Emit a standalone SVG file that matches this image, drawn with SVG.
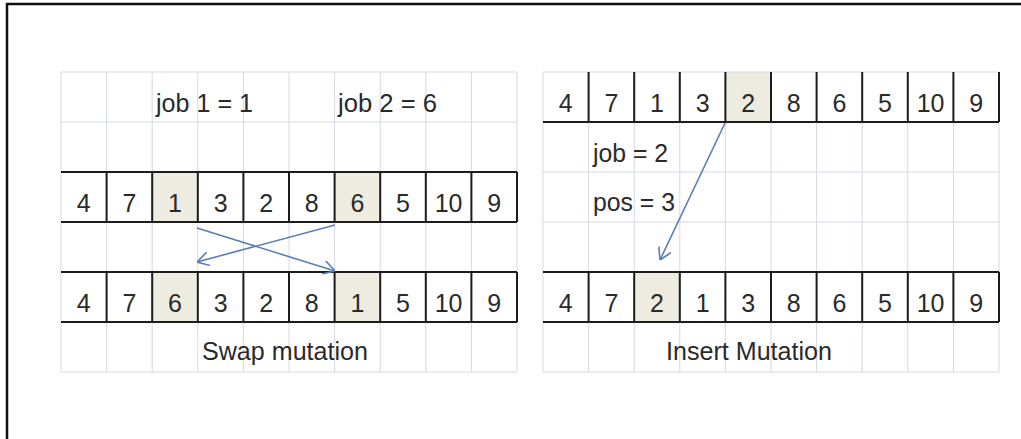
<svg xmlns="http://www.w3.org/2000/svg" width="1021" height="439" viewBox="0 0 1021 439">
<defs>
<style>
.bg{fill:#ffffff}
.frame{fill:none;stroke:#111;stroke-width:2.5}
.grid{stroke:#d3d9e5;stroke-width:1;fill:none}
.thick{stroke:#1c1c1c;stroke-width:2;fill:none}
.hl{fill:#eeece1}
.num{font-family:"Liberation Sans",Arial,sans-serif;font-size:25px;fill:#2a2a2a;text-anchor:middle}
.lbl{font-family:"Liberation Sans",Arial,sans-serif;font-size:26px;fill:#2a2a2a}
.arr{stroke:#5a7fb6;stroke-width:1.6;fill:none;marker-end:url(#head)}
</style>
<marker id="head" viewBox="0 0 12 14" refX="12" refY="7" markerWidth="12" markerHeight="14" markerUnits="userSpaceOnUse" orient="auto">
<path d="M0,0 L12,7 L0,14" fill="none" stroke="#5a7fb6" stroke-width="1.6"/>
</marker>
</defs>
<rect class="bg" x="0" y="0" width="1021" height="439"/>
<path class="frame" d="M7,439 L7,4 L1021,4"/>

<g id="swap-grid">
<rect class="hl" x="152.2" y="172" width="45.6" height="50"/>
<rect class="hl" x="334.6" y="172" width="45.6" height="50"/>
<rect class="hl" x="152.2" y="272" width="45.6" height="50"/>
<rect class="hl" x="334.6" y="272" width="45.6" height="50"/>
<path class="grid" d="M61,72H517M61,122H517M61,172H517M61,222H517M61,272H517M61,322H517M61,372H517
M61,72V372M106.6,72V372M152.2,72V372M197.8,72V372M243.4,72V372M289,72V372M334.6,72V372M380.2,72V372M425.8,72V372M471.4,72V372M517,72V372"/>
<path class="thick" d="M61,172H517M61,222H517M106.6,172V222M152.2,172V222M197.8,172V222M243.4,172V222M289,172V222M334.6,172V222M380.2,172V222M425.8,172V222M471.4,172V222M517,172V222
M61,272H517M61,322H517M106.6,272V322M152.2,272V322M197.8,272V322M243.4,272V322M289,272V322M334.6,272V322M380.2,272V322M425.8,272V322M471.4,272V322M517,272V322"/>
<text class="lbl" x="156" y="112" textLength="97" lengthAdjust="spacingAndGlyphs">job 1 = 1</text>
<text class="lbl" x="338" y="112" textLength="99" lengthAdjust="spacingAndGlyphs">job 2 = 6</text>
<g class="num">
<text x="83.8" y="211.5">4</text><text x="129.4" y="211.5">7</text><text x="175" y="211.5">1</text><text x="220.6" y="211.5">3</text><text x="266.2" y="211.5">2</text><text x="311.8" y="211.5">8</text><text x="357.4" y="211.5">6</text><text x="403" y="211.5">5</text><text x="448.6" y="211.5">10</text><text x="494.2" y="211.5">9</text>
<text x="83.8" y="311.5">4</text><text x="129.4" y="311.5">7</text><text x="175" y="311.5">6</text><text x="220.6" y="311.5">3</text><text x="266.2" y="311.5">2</text><text x="311.8" y="311.5">8</text><text x="357.4" y="311.5">1</text><text x="403" y="311.5">5</text><text x="448.6" y="311.5">10</text><text x="494.2" y="311.5">9</text>
</g>
<text class="lbl" x="202" y="360" textLength="166" lengthAdjust="spacingAndGlyphs">Swap mutation</text>
</g>

<g id="insert-grid">
<rect class="hl" x="725.4" y="72" width="45.6" height="50"/>
<rect class="hl" x="634.2" y="272" width="45.6" height="50"/>
<path class="grid" d="M543,72H999M543,122H999M543,172H999M543,222H999M543,272H999M543,322H999M543,372H999
M543,72V372M588.6,72V372M634.2,72V372M679.8,72V372M725.4,72V372M771,72V372M816.6,72V372M862.2,72V372M907.8,72V372M953.4,72V372M999,72V372"/>
<path class="thick" d="M543,122H999M588.6,72V122M634.2,72V122M679.8,72V122M725.4,72V122M771,72V122M816.6,72V122M862.2,72V122M907.8,72V122M953.4,72V122M999,72V122
M543,272H999M543,322H999M588.6,272V322M634.2,272V322M679.8,272V322M725.4,272V322M771,272V322M816.6,272V322M862.2,272V322M907.8,272V322M953.4,272V322M999,272V322"/>
<g class="num">
<text x="565.8" y="111.5">4</text><text x="611.4" y="111.5">7</text><text x="657" y="111.5">1</text><text x="702.6" y="111.5">3</text><text x="748.2" y="111.5">2</text><text x="793.8" y="111.5">8</text><text x="839.4" y="111.5">6</text><text x="885" y="111.5">5</text><text x="930.6" y="111.5">10</text><text x="976.2" y="111.5">9</text>
<text x="565.8" y="311.5">4</text><text x="611.4" y="311.5">7</text><text x="657" y="311.5">2</text><text x="702.6" y="311.5">1</text><text x="748.2" y="311.5">3</text><text x="793.8" y="311.5">8</text><text x="839.4" y="311.5">6</text><text x="885" y="311.5">5</text><text x="930.6" y="311.5">10</text><text x="976.2" y="311.5">9</text>
</g>
<text class="lbl" x="593" y="162" textLength="75" lengthAdjust="spacingAndGlyphs">job = 2</text>
<text class="lbl" x="593" y="211" textLength="82" lengthAdjust="spacingAndGlyphs">pos = 3</text>
<text class="lbl" x="666" y="360" textLength="166" lengthAdjust="spacingAndGlyphs">Insert Mutation</text>
</g>

<g id="connectors">
<line class="arr" x1="335" y1="225" x2="197" y2="262"/>
<line class="arr" x1="197" y1="228" x2="335" y2="271"/>
<line class="arr" x1="725" y1="123" x2="660" y2="260"/>
</g>
</svg>
